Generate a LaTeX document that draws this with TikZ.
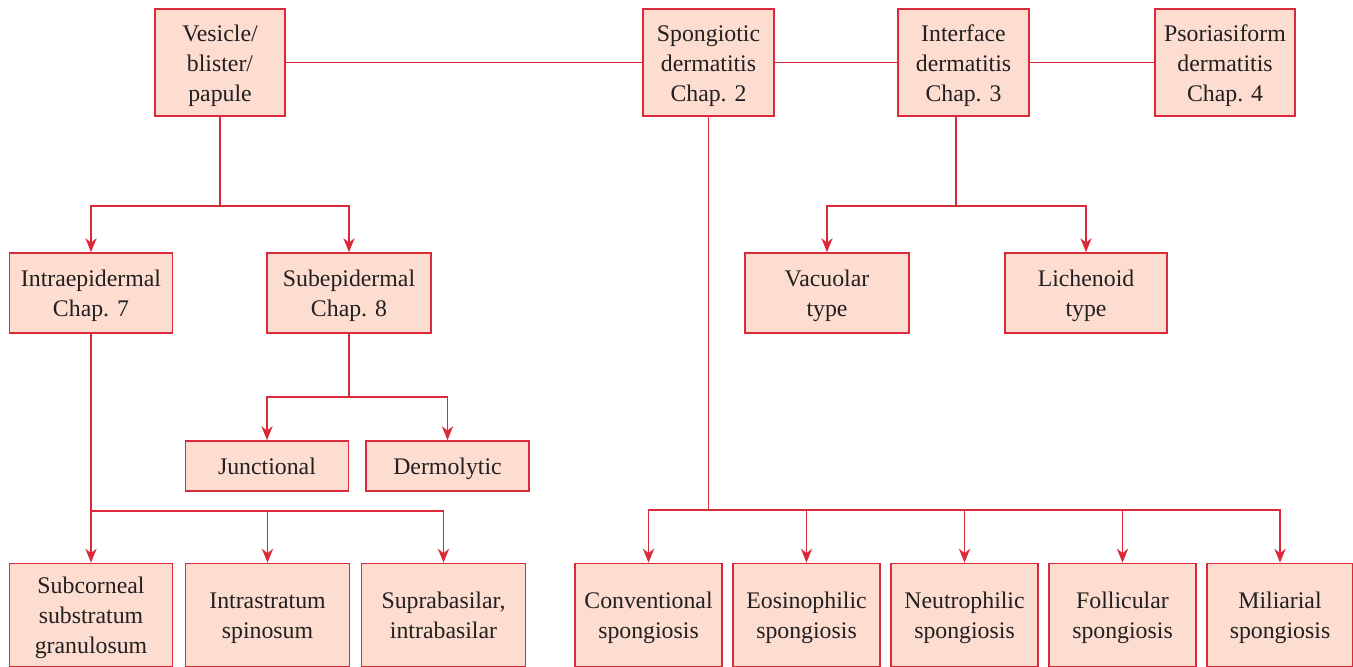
\documentclass[tikz,border=0pt]{standalone}
\usepackage{fontspec}
\setmainfont{Liberation Serif}
\usetikzlibrary{arrows.meta}
\definecolor{boxred}{HTML}{DA2A3A}
\definecolor{boxfill}{HTML}{FCDDD0}
\definecolor{txtgray}{HTML}{231F20}
\newcommand{\tallrow}{\rule{0pt}{11.5pt}}
\tikzset{
  box/.style={draw=boxred,fill=boxfill,line width=0.8pt,align=center,text=txtgray,
    inner sep=0pt,font=\fontsize{11.9}{15}\selectfont,execute at end node=\vphantom{p}},
  sz/.style 2 args={minimum width=#1*0.5pt,minimum height=#2*0.5pt},
  link/.style={draw=boxred,line width=0.8pt},
  arr/.style={link,-{Stealth[length=7pt,width=5.6pt,inset=2.2pt]}}
}
\begin{document}
\begin{tikzpicture}[x=0.5pt,y=-0.5pt]
\useasboundingbox (0,0) rectangle (1353,667);
% top row
\node[box,sz={130}{107}] (ves) at (220,62.5) {\tallrow Vesicle/\\blister/\\papule};
\node[box,sz={131}{107}] (spo) at (708.5,62.5) {\tallrow Spongiotic\\dermatitis\\Chap. 2};
\node[box,sz={131}{107}] (inf) at (963.5,62.5) {\tallrow Interface\\dermatitis\\Chap. 3};
\node[box,sz={140}{107}] (pso) at (1225,62.5) {\tallrow Psoriasiform\\dermatitis\\Chap. 4};
% second row
\node[box,sz={163}{80}] (intra) at (91,293) {\tallrow Intraepidermal\\Chap. 7};
\node[box,sz={164}{80}] (sub) at (349,293) {\tallrow Subepidermal\\Chap. 8};
\node[box,sz={164}{80}] (vac) at (827,293) {\tallrow Vacuolar\\type};
\node[box,sz={162}{80}] (lic) at (1086,293) {\tallrow Lichenoid\\type};
% third row
\node[box,sz={163}{50}] (jun) at (267,466) {\tallrow Junctional};
\node[box,sz={163}{50}] (der) at (447.5,466) {\tallrow Dermolytic};
% bottom row
\node[box,sz={163}{103}] (subc) at (91,615) {\tallrow Subcorneal\\substratum\\granulosum};
\node[box,sz={164}{103}] (intras) at (267.5,615) {\tallrow Intrastratum\\spinosum};
\node[box,sz={164}{103}] (supra) at (443.5,615) {\tallrow Suprabasilar,\\intrabasilar};
\node[box,sz={147}{103}] (conv) at (648.5,615) {\tallrow Conventional\\spongiosis};
\node[box,sz={147}{103}] (eos) at (806.5,615) {\tallrow Eosinophilic\\spongiosis};
\node[box,sz={147}{103}] (neu) at (964.5,615) {\tallrow Neutrophilic\\spongiosis};
\node[box,sz={147}{103}] (fol) at (1122.5,615) {\tallrow Follicular\\spongiosis};
\node[box,sz={146}{103}] (mil) at (1280,615) {\tallrow Miliarial\\spongiosis};
% links
\draw[link] (ves) -- (spo) -- (inf) -- (pso);
\draw[link] (ves.south) -- ++(0,89) coordinate (vb);
\foreach \t in {intra,sub} \draw[arr] (vb) -| (\t.north);
\coordinate (ib) at (956,206);
\draw[link] (inf.south -| ib) -- (ib);
\foreach \t in {vac,lic} \draw[arr] (ib) -| (\t.north);
\draw[link] (sub.south) -- ++(0,63) coordinate (sb);
\foreach \t in {jun,der} \draw[arr] (sb) -| (\t.north);
\draw[link] (intra.south) -- ++(0,177) coordinate (ab);
\foreach \t in {subc,intras,supra} \draw[arr] (ab) -| (\t.north);
\draw[link] (spo.south) -- ++(0,393) coordinate (pb);
\foreach \t in {conv,eos,neu,fol,mil} \draw[arr] (pb) -| (\t.north);
\end{tikzpicture}
\end{document}
